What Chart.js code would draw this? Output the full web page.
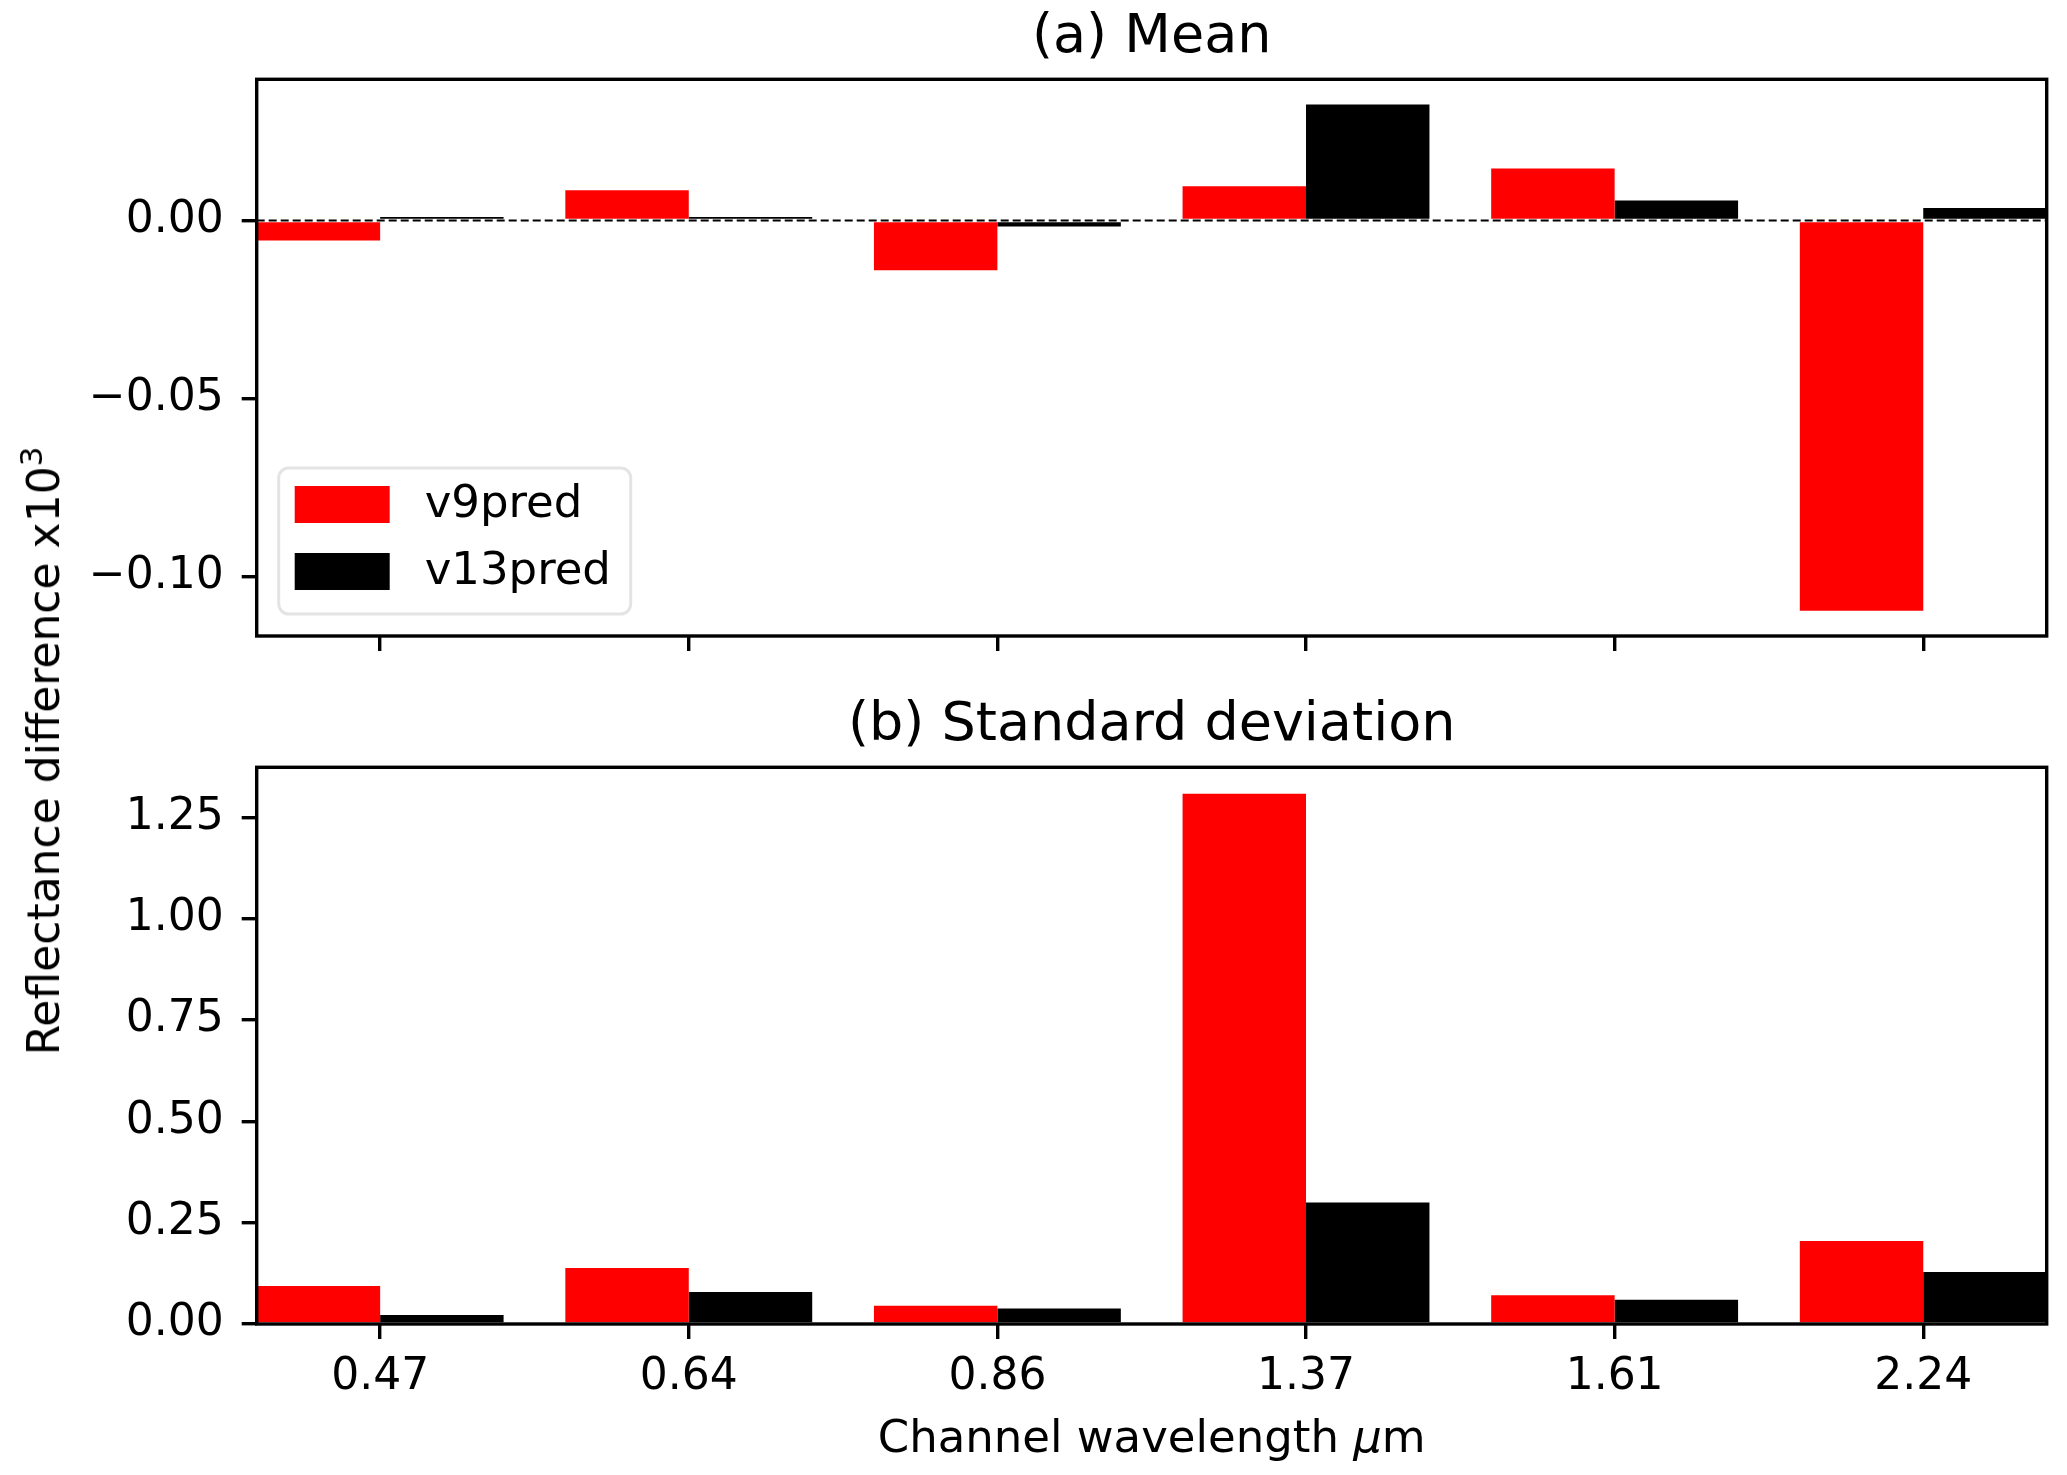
<!DOCTYPE html>
<html>
<head>
<meta charset="utf-8">
<script src="https://cdn.jsdelivr.net/npm/chart.js@4.4.0/dist/chart.umd.min.js"></script>
<style>
  html, body { margin:0; padding:0; background:#fff; }
  #wrap { position:relative; width:2067px; height:1475px; background:#fff; overflow:hidden; }
  #c1 { position:absolute; left:0; top:0; }
  #c2 { position:absolute; left:0; top:688px; }
  #ylab { position:absolute; left:44px; top:751px; transform:translate(-50%,-50%) rotate(-90deg);
          white-space:nowrap; font-family:'DejaVu Sans'; font-size:44px; color:#000; line-height:1; }
  #ylab sup { font-size:31px; vertical-align:0.55em; line-height:0; }
</style>
</head>
<body>
<div id="wrap">
  <canvas id="c1" width="2067" height="688"></canvas>
  <canvas id="c2" width="2067" height="787"></canvas>
  <div id="ylab">Reflectance difference x10<sup>3</sup></div>
</div>
<script>
// ---- data ----
const categories = ['0.47', '0.64', '0.86', '1.37', '1.61', '2.24'];
const seriesNames = ['v9pred', 'v13pred'];
const meanV9  = [-0.0056, 0.0085, -0.0140, 0.0096, 0.0146, -0.1097];
const meanV13 = [0.0010, 0.0010, -0.0017, 0.0326, 0.0056, 0.0035];
const stdV9   = [0.094, 0.138, 0.045, 1.308, 0.071, 0.205];
const stdV13  = [0.022, 0.079, 0.038, 0.300, 0.060, 0.128];
const meanTicks = [-0.10, -0.05, 0.00];
const stdTicks  = [0.00, 0.25, 0.50, 0.75, 1.00, 1.25];
const meanRange = [-0.1168, 0.0397];
const stdRange  = [0, 1.3734];
const titles = ['(a) Mean', '(b) Standard deviation'];
const xTitleParts = [['Channel wavelength ', 'normal'], ['\u03bc', 'italic'], ['m', 'normal']];
const colors = ['#ff0000', '#000000'];

Chart.defaults.font.family = "'DejaVu Sans'";
Chart.defaults.color = '#000';

const FONT_FAMILY = "'DejaVu Sans'";
const LW = 3.4;

function toXY(arr) { return arr.map((v, i) => ({ x: i, y: v })); }
function fmt(v) {
  const s = Math.abs(v).toFixed(2);
  return (v < -1e-9 ? '\u2212' : '') + s;
}

const frame = {
  id: 'frame',
  afterDraw(chart) {
    const a = chart.chartArea, ctx = chart.ctx;
    ctx.save();
    ctx.strokeStyle = '#000';
    ctx.lineWidth = LW;
    ctx.lineJoin = 'miter';
    ctx.strokeRect(a.left, a.top, a.right - a.left, a.bottom - a.top);
    ctx.restore();
  }
};

const zeroLine = {
  id: 'zeroLine',
  beforeDatasetsDraw(chart) {
    const a = chart.chartArea, ctx = chart.ctx;
    const y = chart.scales.y.getPixelForValue(0);
    ctx.save();
    ctx.strokeStyle = '#000';
    ctx.lineWidth = 1.8;
    ctx.setLineDash([8, 4]);
    ctx.beginPath();
    ctx.moveTo(a.left, y);
    ctx.lineTo(a.right, y);
    ctx.stroke();
    ctx.restore();
  }
};

const boxLegend = {
  id: 'boxLegend',
  afterDraw(chart) {
    const a = chart.chartArea, ctx = chart.ctx;
    const w = 352, h = 146, r = 10;
    const x0 = a.left + 22, y0 = a.bottom - 22 - h;
    ctx.save();
    ctx.fillStyle = 'rgba(255,255,255,0.8)';
    ctx.strokeStyle = '#e4e4e4';
    ctx.lineWidth = 3;
    ctx.beginPath();
    ctx.roundRect(x0, y0, w, h, r);
    ctx.fill();
    ctx.stroke();
    ctx.font = '45px ' + FONT_FAMILY;
    ctx.textBaseline = 'middle';
    ctx.textAlign = 'left';
    chart.data.datasets.forEach((ds, i) => {
      const sy = y0 + 18 + i * 67;
      ctx.fillStyle = ds.backgroundColor;
      ctx.fillRect(x0 + 16, sy, 95, 37);
      ctx.fillStyle = '#000';
      ctx.fillText(ds.label, x0 + 146, sy + 19);
    });
    ctx.restore();
  }
};

const xTitle = {
  id: 'xTitle',
  afterDraw(chart) {
    const a = chart.chartArea, ctx = chart.ctx;
    ctx.save();
    ctx.fillStyle = '#000';
    ctx.textBaseline = 'alphabetic';
    ctx.textAlign = 'left';
    let total = 0;
    xTitleParts.forEach(p => { ctx.font = p[1] + ' 45px ' + FONT_FAMILY; total += ctx.measureText(p[0]).width; });
    let x = (a.left + a.right) / 2 - total / 2;
    const y = a.bottom + 128;
    xTitleParts.forEach(p => {
      ctx.font = p[1] + ' 45px ' + FONT_FAMILY;
      ctx.fillText(p[0], x, y);
      x += ctx.measureText(p[0]).width;
    });
    ctx.restore();
  }
};

function makeChart(canvas, v9, v13, ticksArr, range, title, showLabels, xHeight, extraPlugins) {
  return new Chart(canvas, {
    type: 'bar',
    data: {
      datasets: [
        { label: seriesNames[0], data: toXY(v9), backgroundColor: colors[0], borderWidth: 0 },
        { label: seriesNames[1], data: toXY(v13), backgroundColor: colors[1], borderWidth: 0 }
      ]
    },
    options: {
      responsive: false,
      animation: false,
      devicePixelRatio: 1,
      layout: { padding: { left: 0, right: 20.3, top: 0, bottom: 0 } },
      datasets: { bar: { categoryPercentage: 0.8, barPercentage: 1.0 } },
      plugins: {
        legend: { display: false },
        tooltip: { enabled: false },
        title: {
          display: true, text: title, color: '#000', fullSize: false,
          font: { size: 54, weight: 'normal', family: FONT_FAMILY, lineHeight: 1.2 },
          padding: { top: 6, bottom: 8.5 }
        }
      },
      scales: {
        x: {
          type: 'linear', min: -0.4, max: 5.4, offset: false,
          grid: { offset: false, drawOnChartArea: false, drawTicks: true, tickLength: 15,
                  color: '#000', lineWidth: LW, tickWidth: LW },
          border: { display: false },
          afterBuildTicks: (s) => { s.ticks = categories.map((c, i) => ({ value: i })); },
          afterFit: (s) => { s.height = xHeight; },
          ticks: {
            autoSkip: false, maxRotation: 0, padding: 12,
            font: { size: 44, family: FONT_FAMILY },
            callback: (v) => showLabels ? categories[Math.round(v)] : ''
          }
        },
        y: {
          min: range[0], max: range[1],
          grid: { drawOnChartArea: false, drawTicks: true, tickLength: 15,
                  color: '#000', lineWidth: LW, tickWidth: LW },
          border: { display: false },
          afterBuildTicks: (s) => { s.ticks = ticksArr.map(v => ({ value: v })); },
          afterFit: (s) => { s.width = 256.7; },
          ticks: {
            padding: 18,
            font: { size: 44, family: FONT_FAMILY },
            callback: (v) => fmt(v)
          }
        }
      }
    },
    plugins: extraPlugins
  });
}

makeChart(document.getElementById('c1'), meanV9, meanV13, meanTicks, meanRange, titles[0], false, 52,
          [zeroLine, frame, boxLegend]);
makeChart(document.getElementById('c2'), stdV9, stdV13, stdTicks, stdRange, titles[1], true, 151,
          [frame, xTitle]);
</script>
</body>
</html>
